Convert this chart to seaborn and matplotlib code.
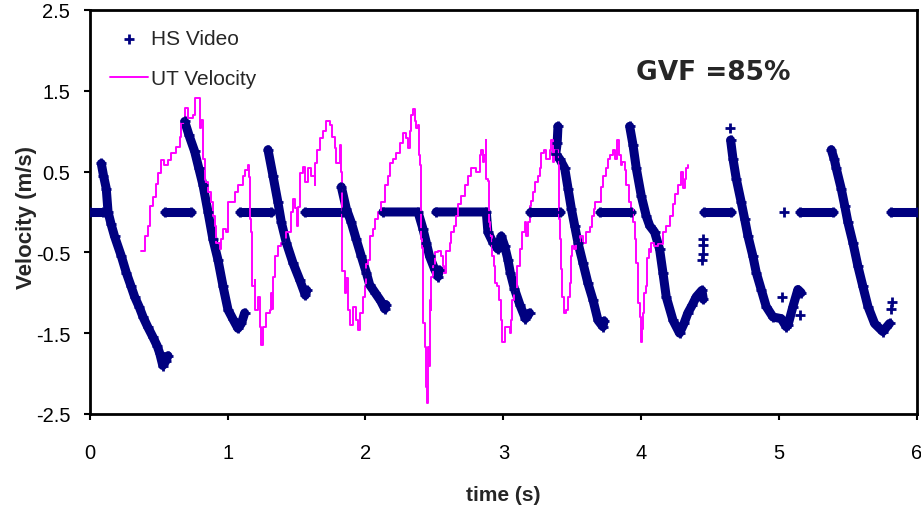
import numpy as np
import pandas as pd
import matplotlib.pyplot as plt
import seaborn as sns

# HS Video: time (s), velocity (m/s), burst id (points with the same id are joined)
hs_t = [0.0, 0.10,
        0.084, 0.10, 0.12, 0.133, 0.155, 0.18, 0.23, 0.265, 0.30, 0.326, 0.36, 0.387, 0.42, 0.459, 0.49, 0.508, 0.53, 0.55, 0.568,
        0.544, 0.737,
        0.689, 0.72, 0.761, 0.79, 0.822, 0.858, 0.894, 0.93, 0.967, 1.003, 1.04, 1.075, 1.10, 1.124,
        1.088, 1.317,
        1.293, 1.329, 1.365, 1.39, 1.426, 1.474, 1.523, 1.564, 1.575,
        1.559, 1.837,
        1.825, 1.861, 1.897, 1.933, 1.97, 2.006, 2.03, 2.07, 2.11, 2.14, 2.15,
        2.127, 2.381, 2.417, 2.441, 2.465, 2.502, 2.526, 2.535,
        2.513, 2.876, 2.888, 2.925, 2.961, 2.985, 3.009, 3.033, 3.05, 3.08, 3.12, 3.16, 3.19,
        3.19, 3.408,
        3.396, 3.39, 3.38, 3.41, 3.445, 3.469, 3.493, 3.517, 3.541, 3.577, 3.613, 3.65, 3.686, 3.722, 3.73,
        3.698, 3.928,
        3.916, 3.94, 3.964, 4.0, 4.036, 4.061, 4.097, 4.133, 4.157, 4.181, 4.23, 4.278, 4.31, 4.338, 4.37, 4.399, 4.44, 4.45,
        4.45, 4.45, 4.445, 4.44,
        4.457, 4.653,
        4.641,
        4.648, 4.665, 4.689, 4.725, 4.75, 4.774, 4.81, 4.834, 4.87, 4.906, 4.955, 5.015, 5.051, 5.064, 5.1, 5.136, 5.16,
        5.035, 5.02, 5.148,
        5.148, 5.39,
        5.378, 5.40, 5.414, 5.45, 5.475, 5.499, 5.535, 5.571, 5.607, 5.644, 5.692, 5.752, 5.801,
        5.818, 5.81,
        5.813, 6.0]
hs_v = [0.0, 0.0,
        0.60, 0.45, 0.29, 0.0, -0.15, -0.30, -0.55, -0.75, -0.92, -1.05, -1.18, -1.30, -1.42, -1.55, -1.66, -1.75, -1.90, -1.85, -1.78,
        0.0, 0.0,
        1.12, 0.95, 0.75, 0.55, 0.33, 0.0, -0.34, -0.59, -0.92, -1.21, -1.33, -1.44, -1.38, -1.25,
        0.0, 0.0,
        0.77, 0.45, 0.12, -0.13, -0.38, -0.63, -0.84, -1.03, -0.97,
        0.0, 0.0,
        0.31, 0.04, -0.13, -0.34, -0.55, -0.75, -0.90, -1.0, -1.1, -1.2, -1.15,
        0.0, 0.0, -0.21, -0.38, -0.55, -0.71, -0.80, -0.72,
        0.0, 0.0, -0.25, -0.38, -0.46, -0.30, -0.42, -0.59, -0.75, -0.95, -1.15, -1.32, -1.25,
        0.0, 0.0,
        1.06, 0.85, 0.72, 0.65, 0.54, 0.29, 0.04, -0.17, -0.38, -0.63, -0.88, -1.09, -1.34, -1.42, -1.35,
        0.0, 0.0,
        1.06, 0.83, 0.54, 0.20, -0.05, -0.17, -0.25, -0.46, -0.75, -1.05, -1.34, -1.50, -1.38, -1.25, -1.15, -1.05, -0.97, -1.08,
        -0.33, -0.41, -0.52, -0.60,
        0.0, 0.0,
        1.04,
        0.89, 0.66, 0.41, 0.12, -0.09, -0.30, -0.55, -0.75, -0.96, -1.17, -1.30, -1.32, -1.42, -1.40, -1.17, -0.96, -1.0,
        0.0, -1.05, -1.27,
        0.0, 0.0,
        0.77, 0.65, 0.54, 0.29, 0.08, -0.13, -0.38, -0.67, -0.92, -1.17, -1.38, -1.48, -1.38,
        -1.11, -1.2,
        0.0, 0.0]
hs_seg = ([0] * 2 + [1] * 19 + [2] * 2 + [3] * 14 + [4] * 2 + [5] * 9 + [6] * 2 + [7] * 11
          + [8] * 8 + [9] * 13 + [10] * 2 + [11] * 15 + [12] * 2 + [13] * 18
          + [14, 15, 16, 17] + [18] * 2 + [19] + [20] * 17 + [21, 22, 23] + [24] * 2
          + [25] * 13 + [26, 27] + [28] * 2)

# UT Velocity
ut_t = [0.374, 0.399, 0.423, 0.435, 0.459, 0.483, 0.495, 0.519, 0.54, 0.568, 0.592, 0.628, 0.653, 0.664, 0.689,
        0.713, 0.749, 0.766, 0.798, 0.798, 0.81, 0.822, 0.834, 0.858, 0.882, 0.894, 0.906, 0.918, 0.943, 0.955,
        0.967, 0.985, 1.003, 1.039, 1.051, 1.075, 1.112, 1.124, 1.148, 1.153, 1.16, 1.172, 1.177, 1.196, 1.196,
        1.22, 1.233, 1.245, 1.257, 1.281, 1.305, 1.313, 1.32, 1.329, 1.341, 1.366, 1.39, 1.42, 1.46, 1.475,
        1.49, 1.50, 1.51, 1.523, 1.547, 1.564, 1.584, 1.607, 1.632, 1.636, 1.651, 1.668, 1.692, 1.716, 1.74,
        1.757, 1.776, 1.788, 1.813, 1.825, 1.83, 1.832, 1.849, 1.861, 1.873, 1.885, 1.909, 1.934, 1.946, 1.958,
        1.982, 1.994, 2.006, 2.018, 2.03, 2.035, 2.054, 2.067, 2.091, 2.115, 2.139, 2.163, 2.176, 2.2, 2.223,
        2.248, 2.272, 2.296, 2.308, 2.32, 2.332, 2.344, 2.357, 2.369, 2.38, 2.385, 2.393, 2.40, 2.41, 2.417,
        2.429, 2.437, 2.446, 2.453, 2.46, 2.465, 2.472, 2.477, 2.49, 2.502, 2.526, 2.55, 2.562, 2.57, 2.586,
        2.611, 2.623, 2.642, 2.659, 2.671, 2.695, 2.719, 2.743, 2.767, 2.79, 2.804, 2.828, 2.84, 2.85, 2.86,
        2.871, 2.876, 2.885, 2.893, 2.905, 2.917, 2.93, 2.941, 2.955, 2.966, 2.98, 2.99, 3.009, 3.03, 3.046,
        3.053, 3.063, 3.08, 3.101, 3.118, 3.135, 3.154, 3.166, 3.178, 3.19, 3.202, 3.214, 3.231, 3.25, 3.263,
        3.275, 3.295, 3.311, 3.335, 3.347, 3.359, 3.37, 3.396, 3.401, 3.408, 3.416, 3.427, 3.44, 3.455, 3.469,
        3.481, 3.488, 3.5, 3.515, 3.529, 3.553, 3.577, 3.601, 3.625, 3.642, 3.657, 3.667, 3.698, 3.71, 3.722,
        3.746, 3.758, 3.775, 3.794, 3.81, 3.826, 3.836, 3.85, 3.86, 3.879, 3.891, 3.91, 3.923, 3.94, 3.952,
        3.964, 3.976, 3.988, 3.995, 4.003, 4.012, 4.02, 4.036, 4.044, 4.056, 4.06, 4.072, 4.096, 4.12, 4.157,
        4.181, 4.206, 4.23, 4.242, 4.266, 4.29, 4.302, 4.314, 4.326, 4.338]
ut_v = [-0.48, -0.30, -0.17, 0.08, 0.18, 0.35, 0.48, 0.64, 0.58, 0.64, 0.73, 0.81, 0.93, 1.10, 1.29,
        1.16, 1.20, 1.41, 1.41, 1.04, 1.14, 0.66, 0.37, 0.25, 0.12, -0.05, -0.17, -0.38, -0.46, -0.34,
        -0.21, -0.25, 0.12, 0.12, 0.25, 0.33, 0.45, 0.52, 0.58, 0.43, -0.09, -0.25, -0.92, -0.84, -1.21,
        -1.05, -1.42, -1.65, -1.42, -1.25, -1.21, -1.0, -1.2, -0.80, -0.55, -0.42, -0.38, -0.25, 0.0, 0.16,
        0.05, -0.17, 0.06, 0.48, 0.56, 0.37, 0.54, 0.45, 0.33, 0.60, 0.77, 0.91, 1.0, 1.12, 1.08,
        0.93, 0.79, 0.60, 0.83, 0.50, 0.04, -0.73, -1.0, -0.82, -1.21, -1.40, -1.17, -1.34, -1.46, -1.25,
        -1.05, -0.92, -0.65, -0.59, -0.46, -0.30, -0.21, -0.09, 0.0, 0.12, 0.33, 0.45, 0.60, 0.66, 0.73,
        0.85, 0.98, 0.91, 0.79, 1.0, 1.20, 1.27, 1.12, 1.04, 1.08, 0.70, 0.58, -0.34, -0.45, -1.38,
        -1.67, -2.17, -2.36, -1.67, -1.9, -1.09, -1.21, -0.80, -0.67, -0.50, -0.48, -0.55, -0.67, -0.75, -0.48,
        -0.38, -0.25, -0.17, -0.05, 0.10, 0.20, 0.33, 0.45, 0.54, 0.55, 0.50, 0.70, 0.77, 0.62, 0.70,
        0.89, 0.41, 0.38, -0.13, -0.30, -0.55, -0.67, -0.88, -0.92, -1.09, -1.34, -1.61, -1.42, -1.42, -1.50,
        -1.34, -1.09, -0.96, -0.67, -0.46, -0.25, -0.13, -0.30, -0.13, 0.08, 0.14, 0.25, 0.37, 0.45, 0.54,
        0.73, 0.77, 0.66, 0.77, 0.89, 0.62, 0.77, 0.66, -0.09, -0.34, -0.71, -1.05, -1.25, -1.21, -1.05,
        -0.88, -0.55, -0.42, -0.46, -0.38, -0.30, -0.38, -0.25, -0.19, -0.05, 0.04, 0.12, 0.12, 0.31, 0.45,
        0.54, 0.66, 0.70, 0.77, 0.66, 0.89, 0.70, 0.58, 0.62, 0.52, 0.33, 0.12, 0.04, -0.13, -0.34,
        -0.63, -1.13, -1.30, -1.61, -1.45, -1.25, -1.0, -0.92, -0.57, -0.46, -0.50, -0.38, -0.42, -0.40, -0.25,
        -0.17, -0.05, 0.10, 0.22, 0.33, 0.50, 0.30, 0.41, 0.54, 0.58]

x_ticks = [0, 1, 2, 3, 4, 5, 6]
y_ticks = [-2.5, -1.5, -0.5, 0.5, 1.5, 2.5]
annotation = 'GVF =85%'

navy = '#000080'
magenta = '#FF00FF'

sns.set_theme(style='ticks')
plt.rcParams['font.family'] = ['Liberation Sans', 'DejaVu Sans']
plt.rcParams['axes.unicode_minus'] = False

fig = plt.figure(figsize=(9.21, 5.10), dpi=100)
ax = fig.add_axes([0.0974, 0.1863, 0.8983, 0.7922])

hs = pd.DataFrame({'t': hs_t, 'v': hs_v, 'seg': hs_seg})
sns.lineplot(data=hs, x='t', y='v', units='seg', estimator=None, sort=False,
             color=navy, lw=6.5, solid_capstyle='round', legend=False, ax=ax)
sns.scatterplot(data=hs, x='t', y='v', marker='+', s=45, linewidth=2,
                color=navy, label='HS Video', ax=ax, zorder=3)
# the UT trace is stair-stepped in the original
sns.lineplot(x=ut_t, y=ut_v, sort=False, estimator=None, color=magenta, lw=1.4,
             drawstyle='steps-post', label='UT Velocity', ax=ax)

ax.set_xlim(0, 6)
ax.set_ylim(-2.5, 2.5)
ax.set_xticks(x_ticks)
ax.set_yticks(y_ticks)
ax.set_xticklabels([str(x) for x in x_ticks])
ax.set_yticklabels([str(y) for y in y_ticks])
for s in ax.spines.values():
    s.set_visible(True)
    s.set_linewidth(2)
    s.set_color('black')
ax.tick_params(axis='both', direction='out', length=4, width=1.5, labelsize=14.5, colors='black')
ax.tick_params(axis='x', pad=17)
ax.tick_params(axis='y', pad=10)

ax.set_xlabel('time (s)', fontsize=15, fontweight='bold')
ax.set_ylabel('Velocity (m/s)', fontsize=16, fontweight='bold')
ax.xaxis.set_label_coords(0.5, -0.175)
ax.yaxis.set_label_coords(-0.064, 0.49)

ax.text(3.96, 1.73, annotation, fontsize=19, fontweight='bold',
        family='DejaVu Sans', va='center', ha='left')

h, l = ax.get_legend_handles_labels()
order = [l.index('HS Video'), l.index('UT Velocity')]
ax.legend([h[i] for i in order], [l[i] for i in order], loc='upper left',
          bbox_to_anchor=(0.0145, 0.973), frameon=False, fontsize=15,
          handlelength=1.8, handletextpad=0.15, labelspacing=1.0, borderpad=0.4,
          borderaxespad=0)

fig.savefig('out.png', dpi=100)
